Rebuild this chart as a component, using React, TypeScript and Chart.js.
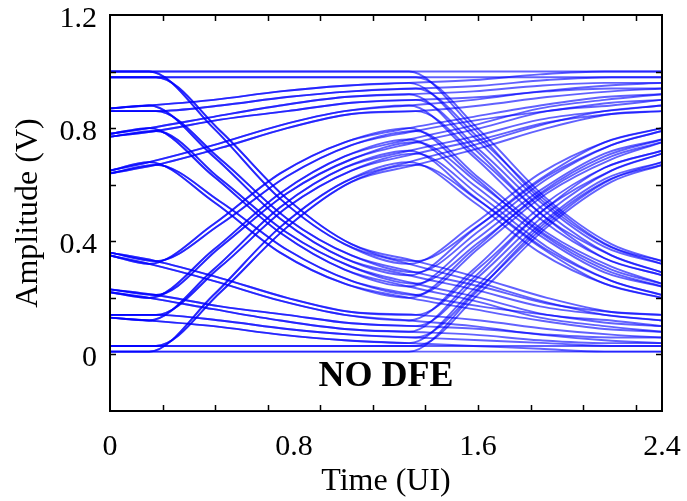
import React, { useEffect, useRef } from "react";
import { Chart, registerables } from "chart.js";

Chart.register(...registerables);

const timeUI = [0, 0.17, 0.45, 0.74, 1.02, 1.3, 1.58, 1.87, 2.15, 2.4];
// Second family of traces, slightly later edges (timing jitter)
const timeUILate = [0, 0.2, 0.48, 0.77, 1.05, 1.33, 1.61, 1.9, 2.18, 2.4];

// Tick labels
const xTickLabels = [0, 0.8, 1.6, 2.4];
const yTickLabels = [0, 0.4, 0.8, 1.2];

// Eye-diagram traces, amplitude (V) at each timeUI instant
const lowRunTraces = [
  [0.01, 0.01, 0.01, 0.01, 0.01, 0.01, 0.01, 0.01, 0.01, 0.01],
  [0.01, 0.01, 0.01, 0.01, 0.01, 0.01, 0.21, 0.45, 0.61, 0.68],
  [0.01, 0.01, 0.21, 0.45, 0.61, 0.68, 0.54, 0.36, 0.25, 0.2],
  [0.01, 0.01, 0.21, 0.45, 0.61, 0.68, 0.74, 0.81, 0.86, 0.88],
  [0.65, 0.68, 0.54, 0.36, 0.25, 0.2, 0.16, 0.12, 0.09, 0.08],
  [0.65, 0.68, 0.54, 0.36, 0.25, 0.2, 0.37, 0.57, 0.7, 0.76],
  [0.65, 0.68, 0.74, 0.81, 0.86, 0.88, 0.7, 0.48, 0.34, 0.28],
  [0.65, 0.68, 0.74, 0.81, 0.86, 0.88, 0.9, 0.93, 0.95, 0.96],
];
const afterRiseTraces = [
  [0.22, 0.2, 0.16, 0.12, 0.09, 0.08, 0.07, 0.05, 0.04, 0.04],
  [0.22, 0.2, 0.16, 0.12, 0.09, 0.08, 0.27, 0.5, 0.66, 0.72],
  [0.22, 0.2, 0.37, 0.57, 0.7, 0.76, 0.6, 0.42, 0.29, 0.24],
  [0.22, 0.2, 0.37, 0.57, 0.7, 0.76, 0.81, 0.87, 0.9, 0.92],
  [0.87, 0.88, 0.7, 0.48, 0.34, 0.28, 0.23, 0.17, 0.14, 0.12],
  [0.87, 0.88, 0.7, 0.48, 0.34, 0.28, 0.44, 0.62, 0.75, 0.8],
  [0.87, 0.88, 0.9, 0.93, 0.95, 0.96, 0.77, 0.54, 0.38, 0.32],
  [0.87, 0.88, 0.9, 0.93, 0.95, 0.96, 0.97, 0.99, 1.0, 1.0],
];
const afterFallTraces = [
  [0.13, 0.12, 0.1, 0.07, 0.05, 0.04, 0.03, 0.02, 0.01, 0.01],
  [0.13, 0.12, 0.1, 0.07, 0.05, 0.04, 0.23, 0.46, 0.62, 0.68],
  [0.13, 0.12, 0.3, 0.52, 0.66, 0.72, 0.56, 0.38, 0.25, 0.2],
  [0.13, 0.12, 0.3, 0.52, 0.66, 0.72, 0.77, 0.83, 0.86, 0.88],
  [0.78, 0.8, 0.63, 0.43, 0.3, 0.24, 0.19, 0.13, 0.1, 0.08],
  [0.78, 0.8, 0.63, 0.43, 0.3, 0.24, 0.4, 0.58, 0.71, 0.76],
  [0.78, 0.8, 0.84, 0.88, 0.91, 0.92, 0.73, 0.5, 0.34, 0.28],
  [0.78, 0.8, 0.84, 0.88, 0.91, 0.92, 0.93, 0.95, 0.96, 0.96],
];
const highRunTraces = [
  [0.35, 0.32, 0.26, 0.19, 0.14, 0.12, 0.1, 0.07, 0.05, 0.04],
  [0.35, 0.32, 0.26, 0.19, 0.14, 0.12, 0.3, 0.52, 0.66, 0.72],
  [0.35, 0.32, 0.46, 0.64, 0.75, 0.8, 0.63, 0.43, 0.3, 0.24],
  [0.35, 0.32, 0.46, 0.64, 0.75, 0.8, 0.84, 0.88, 0.91, 0.92],
  [1.0, 1.0, 0.8, 0.55, 0.39, 0.32, 0.26, 0.19, 0.14, 0.12],
  [1.0, 1.0, 0.8, 0.55, 0.39, 0.32, 0.46, 0.64, 0.75, 0.8],
  [1.0, 1.0, 1.0, 1.0, 1.0, 1.0, 0.8, 0.55, 0.39, 0.32],
  [1.0, 1.0, 1.0, 1.0, 1.0, 1.0, 1.0, 1.0, 1.0, 1.0],
];

// Second family (read against timeUILate): slightly smaller swing
const lowRunTracesB = [
  [0.03, 0.03, 0.03, 0.03, 0.03, 0.03, 0.03, 0.03, 0.03, 0.03],
  [0.03, 0.03, 0.03, 0.03, 0.03, 0.03, 0.22, 0.45, 0.61, 0.67],
  [0.03, 0.03, 0.22, 0.45, 0.61, 0.67, 0.54, 0.37, 0.26, 0.21],
  [0.03, 0.03, 0.22, 0.45, 0.61, 0.67, 0.73, 0.8, 0.85, 0.86],
  [0.64, 0.67, 0.54, 0.37, 0.26, 0.21, 0.17, 0.14, 0.11, 0.1],
  [0.64, 0.67, 0.54, 0.37, 0.26, 0.21, 0.38, 0.57, 0.69, 0.75],
  [0.64, 0.67, 0.73, 0.8, 0.85, 0.86, 0.69, 0.48, 0.35, 0.29],
  [0.64, 0.67, 0.73, 0.8, 0.85, 0.86, 0.88, 0.91, 0.93, 0.94],
];
const afterRiseTracesB = [
  [0.23, 0.21, 0.17, 0.14, 0.11, 0.1, 0.09, 0.07, 0.06, 0.06],
  [0.23, 0.21, 0.17, 0.14, 0.11, 0.1, 0.28, 0.5, 0.65, 0.71],
  [0.23, 0.21, 0.38, 0.57, 0.69, 0.75, 0.6, 0.42, 0.3, 0.25],
  [0.23, 0.21, 0.38, 0.57, 0.69, 0.75, 0.8, 0.86, 0.88, 0.9],
  [0.86, 0.86, 0.69, 0.48, 0.35, 0.29, 0.24, 0.18, 0.15, 0.14],
  [0.86, 0.86, 0.69, 0.48, 0.35, 0.29, 0.44, 0.62, 0.74, 0.79],
  [0.86, 0.86, 0.88, 0.91, 0.93, 0.94, 0.76, 0.54, 0.38, 0.33],
  [0.86, 0.86, 0.88, 0.91, 0.93, 0.94, 0.95, 0.97, 0.98, 0.98],
];
const afterFallTracesB = [
  [0.14, 0.14, 0.12, 0.09, 0.07, 0.06, 0.05, 0.04, 0.03, 0.03],
  [0.14, 0.14, 0.12, 0.09, 0.07, 0.06, 0.24, 0.46, 0.62, 0.67],
  [0.14, 0.14, 0.31, 0.52, 0.65, 0.71, 0.56, 0.38, 0.26, 0.21],
  [0.14, 0.14, 0.31, 0.52, 0.65, 0.71, 0.76, 0.82, 0.85, 0.86],
  [0.77, 0.79, 0.62, 0.43, 0.31, 0.25, 0.2, 0.14, 0.12, 0.1],
  [0.77, 0.79, 0.62, 0.43, 0.31, 0.25, 0.4, 0.58, 0.7, 0.75],
  [0.77, 0.79, 0.83, 0.86, 0.89, 0.9, 0.72, 0.5, 0.35, 0.29],
  [0.77, 0.79, 0.83, 0.86, 0.89, 0.9, 0.91, 0.93, 0.94, 0.94],
];
const highRunTracesB = [
  [0.36, 0.33, 0.27, 0.2, 0.15, 0.14, 0.12, 0.09, 0.07, 0.06],
  [0.36, 0.33, 0.27, 0.2, 0.15, 0.14, 0.31, 0.52, 0.65, 0.71],
  [0.36, 0.33, 0.46, 0.63, 0.74, 0.79, 0.62, 0.43, 0.31, 0.25],
  [0.36, 0.33, 0.46, 0.63, 0.74, 0.79, 0.83, 0.86, 0.89, 0.9],
  [0.98, 0.98, 0.79, 0.55, 0.39, 0.33, 0.27, 0.2, 0.15, 0.14],
  [0.98, 0.98, 0.79, 0.55, 0.39, 0.33, 0.46, 0.63, 0.74, 0.79],
  [0.98, 0.98, 0.98, 0.98, 0.98, 0.98, 0.79, 0.55, 0.39, 0.33],
  [0.98, 0.98, 0.98, 0.98, 0.98, 0.98, 0.98, 0.98, 0.98, 0.98],
];

const familyA = [...lowRunTraces, ...afterRiseTraces, ...afterFallTraces, ...highRunTraces];
const familyB = [...lowRunTracesB, ...afterRiseTracesB, ...afterFallTracesB, ...highRunTracesB];

const SERIF = '"Liberation Serif", "Times New Roman", serif';
const X_MINOR_STEP = 2.4 / 10.5;

const framePlugin = {
  id: "eyeFrame",
  afterDatasetsDraw(chart: any) {
    const { ctx, chartArea } = chart;
    const { left, right, top, bottom } = chartArea;
    const xs = chart.scales.x;
    const ys = chart.scales.y;
    ctx.save();
    ctx.strokeStyle = "#000";
    ctx.lineWidth = 1.5;
    ctx.beginPath();
    for (let i = 0; i <= 5; i++) {
      const py = Math.round(ys.getPixelForValue(i * 0.2)) + 0.5;
      ctx.moveTo(left, py);
      ctx.lineTo(left + 6, py);
      ctx.moveTo(right, py);
      ctx.lineTo(right - 6, py);
    }
    for (let k = 1; k <= 10; k++) {
      const px = Math.round(xs.getPixelForValue(k * X_MINOR_STEP)) + 0.5;
      ctx.moveTo(px, bottom);
      ctx.lineTo(px, bottom - 6);
      ctx.moveTo(px, top);
      ctx.lineTo(px, top + 6);
    }
    ctx.stroke();
    ctx.lineWidth = 2;
    ctx.strokeRect(left, top, right - left, bottom - top);
    ctx.fillStyle = "#000";
    ctx.font = `bold 36px ${SERIF}`;
    ctx.textAlign = "center";
    ctx.textBaseline = "middle";
    ctx.fillText("NO DFE", (left + right) / 2, ys.getPixelForValue(-0.08));
    ctx.restore();
  },
};

function toDataset(trace: number[], times: number[], label: string) {
  return {
    label,
    data: trace.map((v, j) => ({ x: times[j], y: v })),
    borderColor: "rgba(0, 0, 255, 0.62)",
    borderWidth: 1.9,
    pointRadius: 0,
    fill: false,
    cubicInterpolationMode: "monotone" as const,
  };
}

export default function App() {
  const canvasRef = useRef<HTMLCanvasElement | null>(null);

  useEffect(() => {
    const canvas = canvasRef.current;
    if (!canvas) return;
    const datasets = [
      ...familyA.map((t, i) => toDataset(t, timeUI, `A${i + 1}`)),
      ...familyB.map((t, i) => toDataset(t, timeUILate, `B${i + 1}`)),
    ];

    const chart = new Chart(canvas, {
      type: "line",
      data: { datasets },
      plugins: [framePlugin],
      options: {
        responsive: false,
        animation: false,
        events: [],
        layout: { padding: { top: 15, right: 25, left: 0, bottom: 0 } },
        plugins: { legend: { display: false }, tooltip: { enabled: false } },
        scales: {
          x: {
            type: "linear",
            min: 0,
            max: 2.4,
            afterBuildTicks: (scale: any) => {
              scale.ticks = xTickLabels.map((v) => ({ value: v }));
            },
            afterFit: (scale: any) => {
              scale.height = 90;
              scale.paddingLeft = 0;
              scale.paddingRight = 0;
            },
            grid: { display: false, drawTicks: false },
            border: { display: false },
            ticks: {
              color: "#000",
              font: { family: SERIF, size: 30 },
              padding: 18,
              maxRotation: 0,
              autoSkip: false,
              callback: (v: any) => String(v),
            },
            title: {
              display: true,
              text: "Time (UI)",
              color: "#000",
              font: { family: SERIF, size: 32 },
              padding: { top: 0, bottom: 0 },
            },
          },
          y: {
            type: "linear",
            min: -0.2,
            max: 1.2,
            afterBuildTicks: (scale: any) => {
              scale.ticks = yTickLabels.map((v) => ({ value: v }));
            },
            afterFit: (scale: any) => {
              scale.width = 110;
              scale.paddingTop = 0;
              scale.paddingBottom = 0;
            },
            grid: { display: false, drawTicks: false },
            border: { display: false },
            ticks: {
              color: "#000",
              font: { family: SERIF, size: 30 },
              padding: 13,
              labelOffset: 4,
              autoSkip: false,
              callback: (v: any) => String(v),
            },
            title: {
              display: true,
              text: "Amplitude (V)",
              color: "#000",
              font: { family: SERIF, size: 32 },
              padding: { top: 9, bottom: 0 },
            },
          },
        },
      },
    });
    return () => chart.destroy();
  }, []);

  return (
    <div style={{ position: "absolute", left: 0, top: 0, width: 687, height: 501, background: "#fff" }}>
      <canvas ref={canvasRef} width={687} height={501} style={{ display: "block" }} />
    </div>
  );
}
